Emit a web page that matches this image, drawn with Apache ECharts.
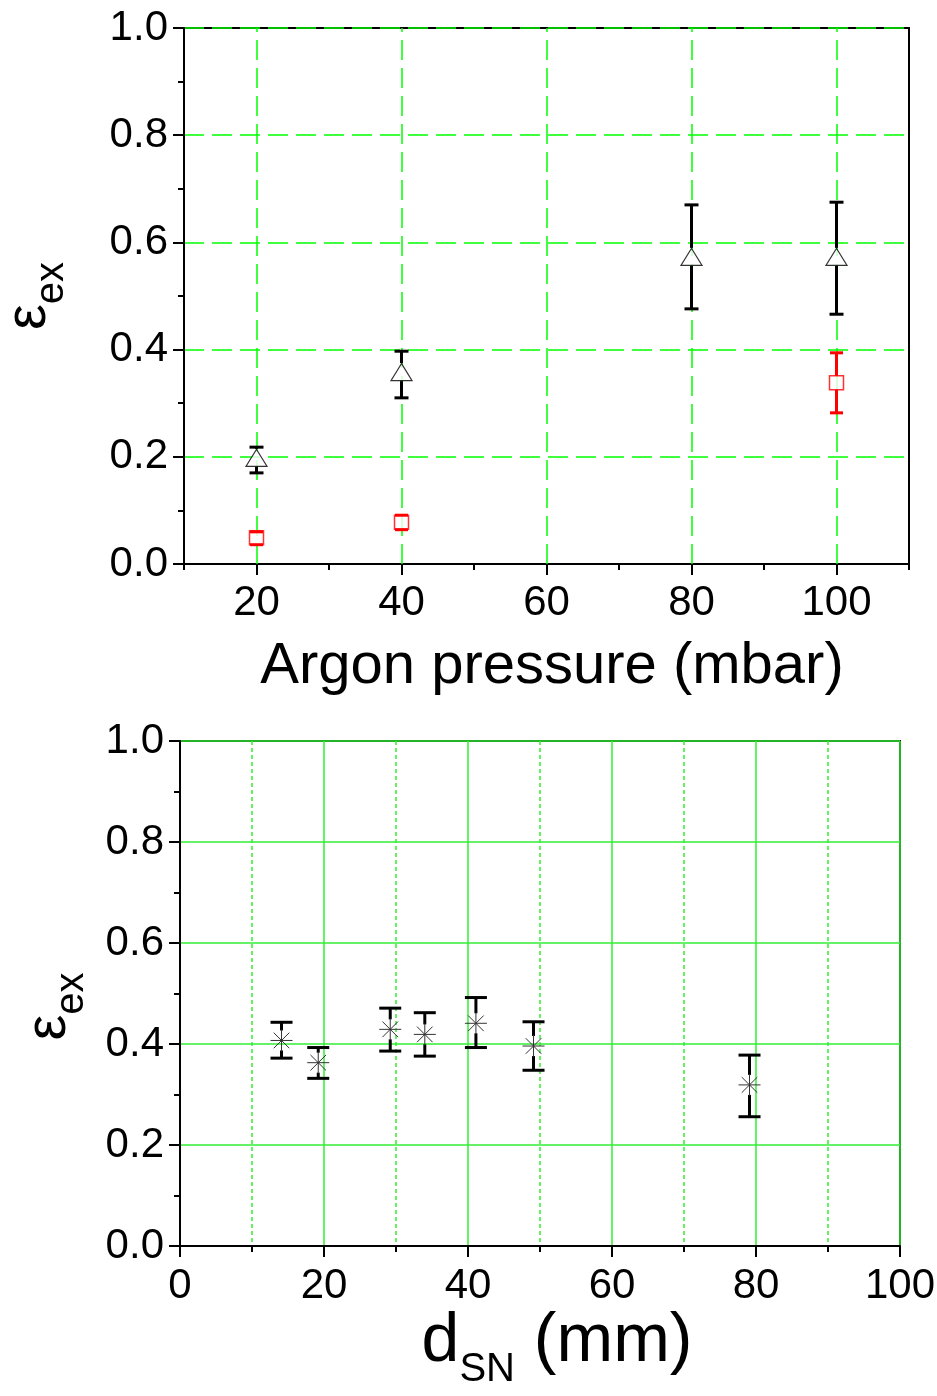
<!DOCTYPE html>
<html><head><meta charset="utf-8">
<script src="https://cdn.jsdelivr.net/npm/echarts@6/dist/echarts.min.js"></script>
<style>html,body{margin:0;padding:0;background:#fff}#c{width:937px;height:1396px}</style>
</head><body><div id="c"></div>
<script>
// ---- Top panel: epsilon_ex vs Argon pressure ----
const pressureTri = [20, 40, 80, 100];
const epsTri      = [0.198, 0.358, 0.573, 0.573];
const epsTriLow   = [0.170, 0.310, 0.476, 0.466];
const epsTriHigh  = [0.218, 0.397, 0.670, 0.675];
const pressureSq  = [20, 40, 100];
const epsSq       = [0.049, 0.078, 0.338];
const epsSqLow    = [0.036, 0.064, 0.282];
const epsSqHigh   = [0.060, 0.091, 0.394];
const topXLabels  = [20, 40, 60, 80, 100];
const topXMinor   = [10, 30, 50, 70, 90, 110];
const topXGrid    = [20, 40, 60, 80, 100];
// ---- Bottom panel: epsilon_ex vs d_SN ----
const dSN      = [14.1, 19.2, 29.2, 34.0, 41.1, 49.1, 79.1];
const epsD     = [0.407, 0.363, 0.429, 0.419, 0.441, 0.396, 0.319];
const epsDLow  = [0.372, 0.332, 0.386, 0.376, 0.393, 0.348, 0.256];
const epsDHigh = [0.443, 0.393, 0.471, 0.462, 0.492, 0.444, 0.378];

const FONT = "'Liberation Sans', Arial, sans-serif";
const GREEN = '#00ff00';
const GREEN2 = '#33ee33';

function errRender(capW, lw, color, gap, star) {
  return function (params, api) {
    const x = api.value(0), y = api.value(1), lo = api.value(2), hi = api.value(3);
    const pc = api.coord([x, y]), pl = api.coord([x, lo]), ph = api.coord([x, hi]);
    const st = { stroke: color, lineWidth: lw, lineCap: 'butt' };
    const ch = [];
    if (ph[1] < pc[1] - gap) ch.push({ type: 'line', shape: { x1: pc[0], y1: ph[1], x2: pc[0], y2: pc[1] - gap }, style: st });
    if (pl[1] > pc[1] + gap) ch.push({ type: 'line', shape: { x1: pc[0], y1: pl[1], x2: pc[0], y2: pc[1] + gap }, style: st });
    ch.push({ type: 'line', shape: { x1: pc[0] - capW / 2, y1: ph[1], x2: pc[0] + capW / 2, y2: ph[1] }, style: st });
    ch.push({ type: 'line', shape: { x1: pc[0] - capW / 2, y1: pl[1], x2: pc[0] + capW / 2, y2: pl[1] }, style: st });
    if (star) {
      const r = 11, d = r * 0.7071, s2 = { stroke: '#333', lineWidth: 1 };
      ch.push({ type: 'line', shape: { x1: pc[0] - r, y1: pc[1], x2: pc[0] + r, y2: pc[1] }, style: s2 });
      ch.push({ type: 'line', shape: { x1: pc[0], y1: pc[1] - r, x2: pc[0], y2: pc[1] + r }, style: s2 });
      ch.push({ type: 'line', shape: { x1: pc[0] - d, y1: pc[1] - d, x2: pc[0] + d, y2: pc[1] + d }, style: s2 });
      ch.push({ type: 'line', shape: { x1: pc[0] - d, y1: pc[1] + d, x2: pc[0] + d, y2: pc[1] - d }, style: s2 });
    }
    return { type: 'group', children: ch };
  };
}

const tickLabel = { color: '#000', fontFamily: FONT, fontSize: 42 };
const axLine = { show: true, lineStyle: { color: '#000', width: 2 } };
const epsRich = {
  e: { fontFamily: FONT, fontSize: 58, color: '#000', verticalAlign: 'top' },
  s: { fontFamily: FONT, fontSize: 40, color: '#000', verticalAlign: 'top', padding: [32, 0, 0, 0] }
};

const option = {
  animation: false,
  backgroundColor: '#fff',
  grid: [
    { left: 184, top: 28, width: 725, height: 536, show: true, borderColor: '#000', borderWidth: 2, backgroundColor: 'transparent', containLabel: false, outerBoundsMode: 'none' },
    { left: 180, top: 741, width: 720, height: 505, show: true, borderColor: '#000', borderWidth: 2, backgroundColor: 'transparent', containLabel: false, outerBoundsMode: 'none' }
  ],
  xAxis: [
    {
      gridIndex: 0, type: 'value', min: 10, max: 110, position: 'bottom',
      axisLine: axLine,
      axisTick: { show: true, length: 11, lineStyle: { color: '#000', width: 2 }, customValues: topXLabels },
      axisLabel: Object.assign({ margin: 18, customValues: topXLabels }, tickLabel),
      splitLine: { show: false },
      name: 'Argon pressure (mbar)', nameLocation: 'middle', nameGap: 74,
      nameTextStyle: { color: '#000', fontFamily: FONT, fontSize: 58, padding: [0, 0, 0, 11] }
    },
    {
      gridIndex: 0, type: 'value', min: 10, max: 110, position: 'bottom', offset: 0,
      axisLine: { show: false },
      axisTick: { show: true, length: 6, lineStyle: { color: '#000', width: 2 }, customValues: topXMinor },
      axisLabel: { show: false }, splitLine: { show: false }
    },
    {
      gridIndex: 1, type: 'value', min: 0, max: 100, interval: 20,
      axisLine: axLine,
      axisTick: { show: true, length: 11, lineStyle: { color: '#000', width: 2 } },
      minorTick: { show: true, splitNumber: 2, length: 6, lineStyle: { color: '#000', width: 2 } },
      axisLabel: Object.assign({ margin: 19 }, tickLabel),
      splitLine: { show: true, lineStyle: { color: GREEN2, width: 1.5 } },
      minorSplitLine: { show: true, lineStyle: { color: GREEN2, width: 1.5, type: [4, 3] } },
      name: '{d|d}{s|SN}{d| (mm)}', nameLocation: 'middle', nameGap: 60,
      nameTextStyle: {
        color: '#000', fontFamily: FONT, fontSize: 68, padding: [0, 0, 0, 34],
        rich: {
          d: { fontFamily: FONT, fontSize: 68, color: '#000', verticalAlign: 'top' },
          s: { fontFamily: FONT, fontSize: 40, color: '#000', verticalAlign: 'top', padding: [42, 0, 0, 0] }
        }
      }
    }
  ],
  yAxis: [
    {
      gridIndex: 0, type: 'value', min: 0, max: 1, interval: 0.2,
      axisLine: axLine,
      axisTick: { show: true, length: 11, lineStyle: { color: '#000', width: 2 } },
      minorTick: { show: true, splitNumber: 2, length: 6, lineStyle: { color: '#000', width: 2 } },
      axisLabel: Object.assign({ margin: 16, formatter: v => v.toFixed(1) }, tickLabel),
      splitLine: { show: true, lineStyle: { color: GREEN, width: 1.5, type: [20, 8] } },
      name: '{e|ε}{s|ex}', nameLocation: 'middle', nameRotate: 90, nameGap: 112,
      nameTextStyle: { color: '#000', fontFamily: FONT, rich: epsRich }
    },
    {
      gridIndex: 1, type: 'value', min: 0, max: 1, interval: 0.2,
      axisLine: axLine,
      axisTick: { show: true, length: 11, lineStyle: { color: '#000', width: 2 } },
      minorTick: { show: true, splitNumber: 2, length: 6, lineStyle: { color: '#000', width: 2 } },
      axisLabel: Object.assign({ margin: 16, formatter: v => v.toFixed(1) }, tickLabel),
      splitLine: { show: true, lineStyle: { color: GREEN2, width: 1.5 } },
      name: '{e|ε}{s|ex}', nameLocation: 'middle', nameRotate: 90, nameGap: 88,
      nameTextStyle: { color: '#000', fontFamily: FONT, rich: epsRich, padding: [0, 26, 0, 0] }
    }
  ],
  series: [
    {
      type: 'line', xAxisIndex: 0, yAxisIndex: 0, data: [], z: 1, silent: true,
      markLine: {
        silent: true, symbol: 'none', label: { show: false },
        lineStyle: { color: GREEN, width: 1.5, type: [20, 8] },
        data: topXGrid.map(v => ({ xAxis: v }))
      }
    },
    {
      type: 'custom', xAxisIndex: 0, yAxisIndex: 0, z: 5,
      renderItem: errRender(14, 3, '#000', 9, false),
      data: pressureTri.map((x, i) => [x, epsTri[i], epsTriLow[i], epsTriHigh[i]])
    },
    {
      type: 'scatter', xAxisIndex: 0, yAxisIndex: 0, z: 6,
      symbol: 'triangle', symbolSize: [21, 17],
      itemStyle: { color: '#fff', borderColor: '#000', borderWidth: 1.2 },
      data: pressureTri.map((x, i) => [x, epsTri[i]])
    },
    {
      type: 'scatter', xAxisIndex: 0, yAxisIndex: 0, z: 6,
      symbol: 'rect', symbolSize: 14,
      itemStyle: { color: '#fff', borderColor: '#f00', borderWidth: 1.5 },
      data: pressureSq.map((x, i) => [x, epsSq[i]])
    },
    {
      type: 'custom', xAxisIndex: 0, yAxisIndex: 0, z: 7,
      renderItem: errRender(13, 3, '#f00', 7, false),
      data: pressureSq.map((x, i) => [x, epsSq[i], epsSqLow[i], epsSqHigh[i]])
    },
    {
      type: 'custom', xAxisIndex: 2, yAxisIndex: 1, z: 5,
      renderItem: errRender(22, 3, '#000', 10, true),
      data: dSN.map((x, i) => [x, epsD[i], epsDLow[i], epsDHigh[i]])
    }
  ]
};
echarts.init(document.getElementById('c'), null, { renderer: 'canvas' }).setOption(option);
</script></body></html>
